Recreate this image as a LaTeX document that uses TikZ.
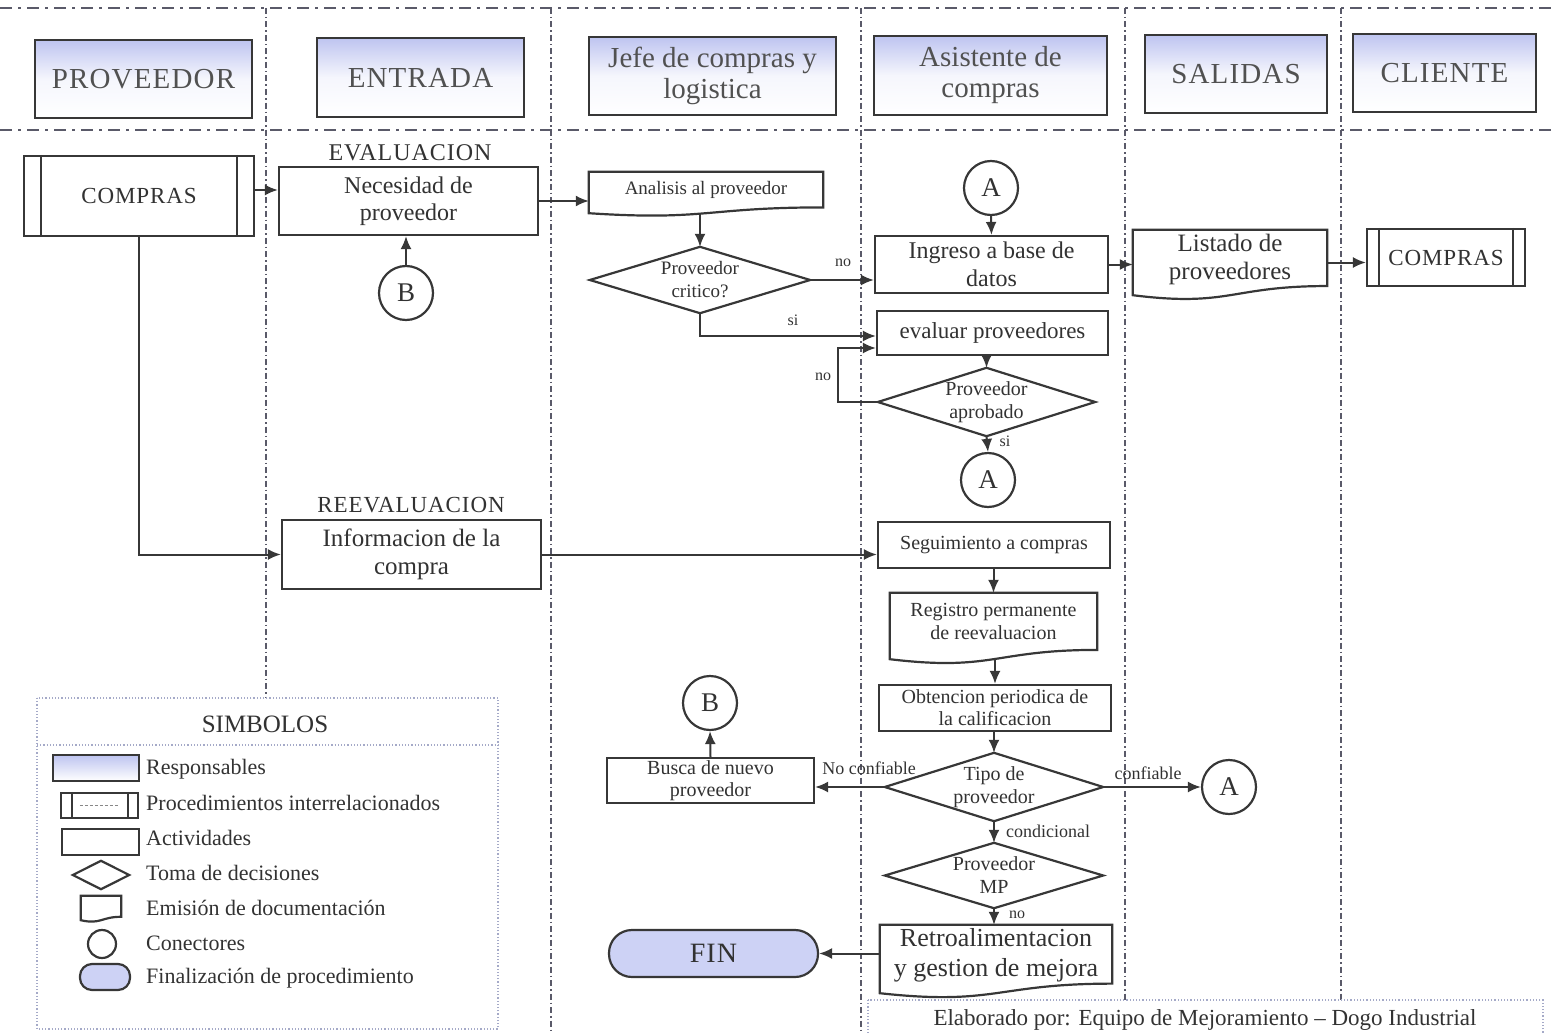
\documentclass[tikz,border=0pt]{standalone}
\usepackage{fontspec}
\setmainfont{Liberation Serif}
\newfontfamily\capsf[LetterSpace=4]{Liberation Serif}
\usetikzlibrary{arrows.meta,calc}
\definecolor{lc}{RGB}{55,55,55}
\definecolor{tc}{RGB}{50,50,50}
\definecolor{lav}{RGB}{190,196,240}
\definecolor{finc}{RGB}{205,210,245}
\definecolor{lane}{RGB}{90,90,105}
\definecolor{dotc}{RGB}{165,170,200}
\newcommand\myfs[2]{\fontsize{#1pt}{#2pt}\selectfont}
\newcommand\docpath[1]{%
  \draw[ln] let \p1=(#1.north west), \p2=(#1.south east) in
  (\x1,\y1) -- (\x2,\y1) -- (\x2,{\y1+0.86*(\y2-\y1)})
  .. controls ({0.5*\x1+0.5*\x2},{\y1+0.86*(\y2-\y1)}) and ({0.5*\x1+0.5*\x2},{\y1+1.186*(\y2-\y1)}) .. (\x1,\y2) -- cycle;}
\newcommand\diapath[1]{\draw[ln] (#1.north) -- (#1.east) -- (#1.south) -- (#1.west) -- cycle;}
\tikzset{
  ln/.style={draw=lc, line width=2.2pt},
  sz/.style 2 args={minimum width=#1pt, minimum height=#2pt},
  hdr/.style={ln, top color=lav, bottom color=white, middle color=white!85!lav, inner sep=0pt, align=center, text=tc!85},
  act/.style={ln, fill=white, inner sep=0pt, align=center, text=tc},
  plain/.style={inner sep=0pt, align=center, text=tc},
  conn/.style={ln, circle, minimum size=54pt, inner sep=0pt, text=tc, font=\capsf\myfs{27}{27}},
  arr/.style={draw=lc, line width=2pt, -{Latex[length=13pt,width=11pt]}},
  lbl/.style={inner sep=0pt, text=tc},
  lanev/.style={draw=lane, line width=1.3pt, dash pattern=on 6pt off 3pt on 1.5pt off 3pt},
  laneh/.style={draw=lane, line width=2.4pt, dash pattern=on 12pt off 6pt on 3pt off 6pt},
  legt/.style={inner sep=0pt, anchor=west, text=tc, font=\myfs{22}{24}},
}
\begin{document}
\begin{tikzpicture}[x=1pt, y=-1pt]
\clip (0,0) rectangle (1556,1033);
\useasboundingbox (0,0) rectangle (1556,1033);

% swimlane lines
\draw[laneh] (0,8) -- (1556,8);
\draw[laneh] (0,130) -- (1556,130);
\draw[lanev] (266,8) -- (266,698);
\draw[lanev] (551,8) -- (551,1033);
\draw[lanev] (861,8) -- (861,1033);
\draw[lanev] (1125,8) -- (1125,1000);
\draw[lanev] (1341,8) -- (1341,1000);

% headers
\node[hdr, sz={217}{78}, font=\capsf\myfs{29}{31}] (h1) at (143.5,79) {PROVEEDOR};
\node[hdr, sz={207}{79}, font=\capsf\myfs{29}{31}] (h2) at (420.5,77.5) {ENTRADA};
\node[hdr, sz={247}{78}, font=\myfs{29}{31}] (h3) at (712.5,76) {Jefe de compras y\\logistica};
\node[hdr, sz={233}{79}, font=\myfs{29}{31}] (h4) at (990.5,75.5) {Asistente de\\compras};
\node[hdr, sz={182}{78}, font=\capsf\myfs{29}{31}] (h5) at (1236,74) {SALIDAS};
\node[hdr, sz={183}{78}, font=\capsf\myfs{29}{31}] (h6) at (1444.5,73) {CLIENTE};

% section labels
\node[lbl, font=\capsf\myfs{24}{24}] (evl) at (410,153) {EVALUACION};
\node[lbl, font=\capsf\myfs{23}{23}] (reevl) at (411,505) {REEVALUACION};

% predefined processes
\node[act, sz={230}{80}, font=\capsf\myfs{23}{25}] (cp1) at (139,196) {COMPRAS};
\draw[ln] ([xshift=18pt]cp1.north west) -- ([xshift=18pt]cp1.south west);
\draw[ln] ([xshift=-18pt]cp1.north east) -- ([xshift=-18pt]cp1.south east);
\node[act, sz={158}{57}, font=\capsf\myfs{23}{25}] (cp2) at (1446,257.5) {COMPRAS};
\draw[ln] ([xshift=13pt]cp2.north west) -- ([xshift=13pt]cp2.south west);
\draw[ln] ([xshift=-13pt]cp2.north east) -- ([xshift=-13pt]cp2.south east);

% activities
\node[act, sz={259}{68}, font=\myfs{24}{27}] (nec) at (408.5,201) {Necesidad de\\proveedor};
\node[act, sz={233}{57}, font=\myfs{24}{28}] (ing) at (991.5,264.5) {Ingreso a base de\\datos};
\node[act, sz={231}{44}, font=\myfs{23}{25}] (eva) at (992.5,333) {evaluar proveedores};
\node[act, sz={259}{69}, font=\myfs{25}{28}] (inf) at (411.5,554.5) {Informacion de la\\compra};
\node[act, sz={232}{46}, font=\myfs{20}{22}] (seg) at (994,545) {Seguimiento a compras};
\node[act, sz={232}{46}, font=\myfs{20}{22}] (obt) at (995,708) {Obtencion periodica de\\la calificacion};
\node[act, sz={207}{45}, font=\myfs{20}{22}] (bus) at (710.5,780.5) {Busca de nuevo\\proveedor};

% documents
\node[plain, sz={234}{41}, font=\myfs{19}{21}] (ana) at (706,192.5) {};
\docpath{ana}
\node[plain, font=\myfs{19}{21}] (anat) at (706,190) {Analisis al proveedor};
\node[plain, sz={194}{65}, font=\myfs{25}{28}] (lis) at (1230,262.5) {};
\docpath{lis}
\node[plain, font=\myfs{25}{28}] (list) at (1230,259) {Listado de\\proveedores};
\node[plain, sz={207}{66}, font=\myfs{20}{23}] (reg) at (993.5,626) {};
\docpath{reg}
\node[plain, font=\myfs{20}{23}] (regt) at (993.5,621) {Registro permanente\\de reevaluacion};
\node[plain, sz={232}{68}, font=\myfs{26}{30}] (ret) at (996,959) {};
\docpath{ret}
\node[plain, font=\myfs{26}{30}] (rett) at (996,955) {Retroalimentacion\\y gestion de mejora};

% decisions
\node[plain, sz={220}{66}, font=\myfs{19}{23}] (d1) at (700,280) {Proveedor\\critico?};
\diapath{d1}
\node[plain, sz={217}{68}, font=\myfs{20}{23}] (d2) at (986.5,402) {Proveedor\\aprobado};
\diapath{d2}
\node[plain, sz={218}{68}, font=\myfs{20}{23}] (d3) at (994,787) {Tipo de\\proveedor};
\diapath{d3}
\node[plain, sz={218}{65}, font=\myfs{20}{23}] (d4) at (994,875.5) {Proveedor\\MP};
\diapath{d4}

% connectors
\node[conn] (cA1) at (991,188) {A};
\node[conn] (cB1) at (406,293) {B};
\node[conn] (cA2) at (988,480) {A};
\node[conn] (cB2) at (710,703) {B};
\node[conn] (cA3) at (1229,787) {A};

% end
\node[ln, fill=finc, rounded corners=23pt, sz={209}{47}, inner sep=0pt, text=tc, font=\capsf\myfs{28}{28}] (fin) at (713.5,953.5) {FIN};

% flow arrows
\draw[arr] ([yshift=6pt]cp1.east) -- ([yshift=6pt]cp1.east -| nec.west);
\draw[arr] (cB1.north) -- (cB1.north |- nec.south);
\draw[arr] (nec.east) -- (nec.east -| ana.west);
\draw[arr] (d1.north |- ana.south) -- (d1.north);
\draw[arr] (d1.east) -- (d1.east -| ing.west);
\draw[arr] (cA1.south) -- (ing.north);
\draw[arr] (ing.east) -- (ing.east -| lis.west);
\draw[arr] (lis.east) -- (lis.east -| cp2.west);
\draw[arr] (d1.south) |- ([yshift=-3pt]eva.west);
\draw[arr] (d2.north |- eva.south) -- (d2.north);
\draw[arr] (d2.west) -- ++(-40,0) |- ([yshift=-15pt]eva.west);
\draw[arr] (d2.south) -- (cA2.north);
\draw[arr] (cp1.south) |- (inf.west);
\draw[arr] (inf.east) -- (inf.east -| seg.west);
\draw[arr] (reg.north |- seg.south) -- (reg.north);
\draw[arr] (obt.north |- reg.south) -- (obt.north);
\draw[arr] (d3.north |- obt.south) -- (d3.north);
\draw[arr] (d3.west) -- (d3.west -| bus.east);
\draw[arr] (bus.north) -- (cB2.south);
\draw[arr] (d3.east) -- (cA3.west);
\draw[arr] (d3.south) -- (d4.north);
\draw[arr] (d4.south) -- (d4.south |- ret.north);
\draw[arr] (ret.west |- fin.east) -- (fin.east);

% flow labels
\node[lbl, font=\myfs{16}{16}] (l1) at (843,263) {no};
\node[lbl, font=\myfs{16}{16}] (l2) at (793,320) {si};
\node[lbl, font=\myfs{16}{16}] (l3) at (823,377) {no};
\node[lbl, font=\myfs{16}{16}] (l4) at (1005,441) {si};
\node[lbl, font=\myfs{18}{18}] (l5) at (869,768) {No confiable};
\node[lbl, font=\myfs{18}{18}] (l6) at (1148,773) {confiable};
\node[lbl, font=\myfs{18}{18}] (l7) at (1048,831) {condicional};
\node[lbl, font=\myfs{16}{16}] (l8) at (1017,915) {no};

% legend
\draw[dotc, dotted, line width=1.2pt] (37,698) rectangle (498,1029);
\draw[dotc, dotted, line width=1.2pt] (37,745) -- (498,745);
\node[lbl, font=\myfs{25}{25}] (simb) at (265,724) {SIMBOLOS};
\node[ln, top color=lav, bottom color=white, sz={86}{26}] (lg1) at (96,768) {};
\node[ln, fill=white, sz={77}{25}] (lg2) at (99.5,805.5) {};
\draw[ln] ([xshift=12pt]lg2.north west) -- ([xshift=12pt]lg2.south west);
\draw[ln] ([xshift=-11pt]lg2.north east) -- ([xshift=-11pt]lg2.south east);
\draw[lc!60, line width=0.8pt, dash pattern=on 3pt off 2pt] ([xshift=20pt]lg2.west) -- ([xshift=-20pt]lg2.east);
\node[ln, fill=white, sz={77}{26}] (lg3) at (100.5,842) {};
\node[plain, sz={56}{28}] (lg4) at (101,875) {};
\diapath{lg4}
\node[plain, sz={40}{24}] (lg5) at (101,908) {};
\docpath{lg5}
\node[ln, circle, minimum size=28pt, inner sep=0pt] (lg6) at (102,944) {};
\node[ln, fill=finc, rounded corners=12pt, sz={50}{26}] (lg7) at (105,977) {};
\node[legt] (lt1) at (146,769) {Responsables};
\node[legt] (lt2) at (146,803) {Procedimientos interrelacionados};
\node[legt] (lt3) at (146,838) {Actividades};
\node[legt] (lt4) at (146,873) {Toma de decisiones};
\node[legt] (lt5) at (146,908) {Emisión de documentación};
\node[legt] (lt6) at (146,943) {Conectores};
\node[legt] (lt7) at (146,978) {Finalización de procedimiento};

% credit box
\draw[dotc, dotted, line width=1.2pt] (868,1000) rectangle (1543,1050);
\node[lbl, anchor=base, font=\myfs{23}{23}] (elab) at (1205,1025) {Elaborado por: Equipo de Mejoramiento – Dogo Industrial};
\end{tikzpicture}
\end{document}
